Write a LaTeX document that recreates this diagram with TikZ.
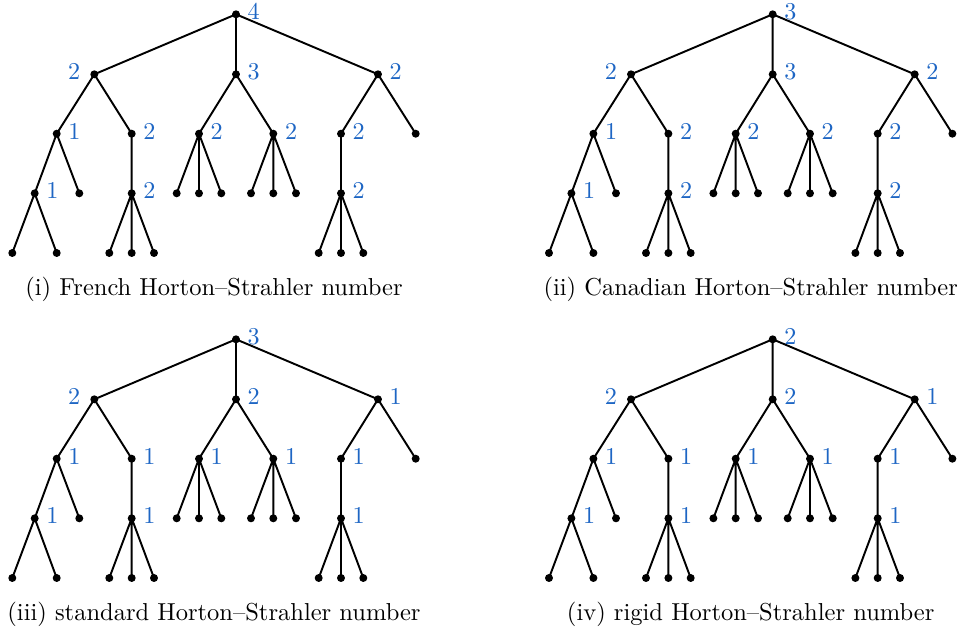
\documentclass[tikz,border=0pt]{standalone}
\usepackage{xcolor}
\definecolor{hsblue}{RGB}{30,102,196}
\begin{document}
\begin{tikzpicture}[x=0.4141pt, y=-0.4141pt,
  dot/.style={circle, fill=black, inner sep=0pt, minimum size=3.3pt},
  edge/.style={line width=0.8pt},
  labR/.style={text=hsblue, inner sep=0pt, anchor=base west, xshift=2.8pt, yshift=-2.3pt},
  labL/.style={text=hsblue, inner sep=0pt, anchor=base east, xshift=-3.8pt, yshift=-2.3pt},
  caption/.style={anchor=base, inner sep=0pt, font=\fontsize{10.15pt}{12pt}\selectfont}]
\useasboundingbox (0,0) rectangle (957,628);
\foreach \p/\sx/\sy/\cap/\lr/\la/\lb/\lc/\laa/\lab/\lba/\lbb/\lca/\laaa/\laba/\lcaa in {
  i/0/0/{(i) French Horton--Strahler number}/4/2/3/2/1/2/2/2/2/1/2/2,
  ii/536.7/0/{(ii) Canadian Horton--Strahler number}/3/2/3/2/1/2/2/2/2/1/2/2,
  iii/0/325/{(iii) standard Horton--Strahler number}/3/2/2/1/1/1/1/1/1/1/1/1,
  iv/536.7/325/{(iv) rigid Horton--Strahler number}/2/2/2/1/1/1/1/1/1/1/1/1}{
\begin{scope}[shift={(\sx,\sy)}]
  % root and first level
  \node[dot, label={[labR]right:\lr}] (\p-r) at (236,14.3) {};
  \node[dot, label={[labL]left:\la}]  (\p-a) at (94.3,74.3) {};
  \node[dot, label={[labR]right:\lb}] (\p-b) at (236,74.3) {};
  \node[dot, label={[labR]right:\lc}] (\p-c) at (378,74.3) {};
  % second level
  \node[dot, label={[labR]right:\laa}] (\p-aa) at (56.7,133.7) {};
  \node[dot, label={[labR]right:\lab}] (\p-ab) at (131.7,133.7) {};
  \node[dot, label={[labR]right:\lba}] (\p-ba) at (199,133.7) {};
  \node[dot, label={[labR]right:\lbb}] (\p-bb) at (273.3,133.7) {};
  \node[dot, label={[labR]right:\lca}] (\p-ca) at (341,133.7) {};
  \node[dot] (\p-cb) at (415.7,133.7) {};
  % third level
  \node[dot, label={[labR]right:\laaa}] (\p-aaa) at (34.7,193.3) {};
  \node[dot] (\p-aab) at (79.3,193.3) {};
  \node[dot, label={[labR]right:\laba}] (\p-aba) at (131.7,193.3) {};
  \node[dot] (\p-baa) at (176.7,193.3) {};
  \node[dot] (\p-bab) at (199,193.3) {};
  \node[dot] (\p-bac) at (221.3,193.3) {};
  \node[dot] (\p-bba) at (251,193.3) {};
  \node[dot] (\p-bbb) at (273.3,193.3) {};
  \node[dot] (\p-bbc) at (296,193.3) {};
  \node[dot, label={[labR]right:\lcaa}] (\p-caa) at (341,193.3) {};
  % fourth level
  \node[dot] (\p-aaaa) at (12.3,253) {};
  \node[dot] (\p-aaab) at (56.7,253) {};
  \node[dot] (\p-abaa) at (109.3,253) {};
  \node[dot] (\p-abab) at (131.7,253) {};
  \node[dot] (\p-abac) at (154,253) {};
  \node[dot] (\p-caaa) at (318.7,253) {};
  \node[dot] (\p-caab) at (341,253) {};
  \node[dot] (\p-caac) at (363.3,253) {};
  % edges
  \draw[edge] (\p-r.center) -- (\p-a.center) (\p-r.center) -- (\p-b.center) (\p-r.center) -- (\p-c.center)
    (\p-a.center) -- (\p-aa.center) (\p-a.center) -- (\p-ab.center)
    (\p-b.center) -- (\p-ba.center) (\p-b.center) -- (\p-bb.center)
    (\p-c.center) -- (\p-ca.center) (\p-c.center) -- (\p-cb.center)
    (\p-aa.center) -- (\p-aaa.center) (\p-aa.center) -- (\p-aab.center)
    (\p-ab.center) -- (\p-aba.center)
    (\p-ba.center) -- (\p-baa.center) (\p-ba.center) -- (\p-bab.center) (\p-ba.center) -- (\p-bac.center)
    (\p-bb.center) -- (\p-bba.center) (\p-bb.center) -- (\p-bbb.center) (\p-bb.center) -- (\p-bbc.center)
    (\p-ca.center) -- (\p-caa.center)
    (\p-aaa.center) -- (\p-aaaa.center) (\p-aaa.center) -- (\p-aaab.center)
    (\p-aba.center) -- (\p-abaa.center) (\p-aba.center) -- (\p-abab.center) (\p-aba.center) -- (\p-abac.center)
    (\p-caa.center) -- (\p-caaa.center) (\p-caa.center) -- (\p-caab.center) (\p-caa.center) -- (\p-caac.center);
  % caption
  \node[caption] (\p-cap) at (214,295) {\cap};
\end{scope}
}
\end{tikzpicture}
\end{document}
